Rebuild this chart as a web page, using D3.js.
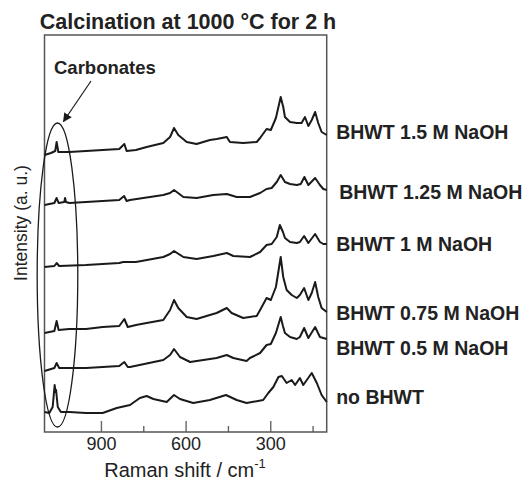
<!DOCTYPE html>
<html>
<head>
<meta charset="utf-8">
<script src="https://cdn.jsdelivr.net/npm/d3@7"></script>
<style>
    body { margin: 0; background: #fff; }
    svg { display: block; font-family: "Liberation Sans", Arial, sans-serif; }
</style>
</head>
<body>
<div id="chart"></div>
<script>
// spectra: [Raman shift (cm-1), stacked intensity (a. u.)]
const naoh150 = [[1100,277],[1077,279],[1062,281],[1057,290],[1051,280],[1012,280],[953,281],[894,282],[835,283],[817,288],[809,281],[776,282],[738,285],[679,289],[655,295],[641,304],[626,297],[596,290],[561,288],[514,292],[490,293],[454,295],[443,290],[396,289],[348,290],[336,294],[313,303],[298,302],[280,314],[263,335],[254,325],[248,315],[230,310],[206,309],[189,309],[177,315],[165,306],[153,312],[141,320],[130,309],[118,300],[100,297]];
const naoh125 = [[1100,227],[1065,229],[1057,234],[1050,229],[1030,230],[1027,234],[1024,230],[1012,229],[953,230],[894,231],[835,232],[818,236],[809,231],[797,232],[679,237],[655,239],[641,242],[608,235],[561,234],[502,237],[454,238],[419,235],[372,235],[336,239],[313,243],[295,244],[277,250],[263,257],[248,250],[230,248],[206,247],[192,248],[179,255],[165,247],[141,254],[124,247],[112,243],[100,242]];
const naoh100 = [[1100,165],[1065,166],[1057,169],[1048,166],[953,167],[894,168],[835,169],[821,170],[776,170],[679,175],[655,178],[641,181],[608,175],[561,173],[502,176],[454,179],[431,176],[372,175],[336,180],[313,187],[295,188],[277,195],[266,207],[255,200],[248,194],[230,190],[206,189],[195,190],[180,196],[165,189],[141,198],[124,190],[112,188],[100,188]];
const naoh075 = [[1100,99],[1065,101],[1057,111],[1050,102],[1012,103],[953,103],[894,105],[835,106],[817,113],[805,105],[776,107],[738,109],[679,112],[655,122],[641,132],[626,124],[596,115],[561,113],[514,117],[490,119],[454,124],[437,119],[396,114],[348,116],[336,122],[313,134],[298,132],[280,145],[263,175],[254,155],[242,142],[224,137],[206,134],[195,137],[180,144],[165,132],[153,139],[141,150],[130,135],[118,124],[100,120]];
const naoh050 = [[1100,61],[1065,64],[1057,69],[1048,64],[953,64],[894,65],[835,66],[817,70],[805,65],[797,65],[679,72],[655,77],[641,83],[620,75],[584,70],[537,72],[490,74],[454,77],[431,74],[384,71],[372,74],[336,79],[313,87],[298,88],[280,99],[263,115],[255,106],[248,99],[230,95],[206,93],[195,95],[180,104],[165,94],[141,105],[124,95],[112,94],[100,93]];
const noBhwt = [[1100,20],[1083,19],[1071,25],[1064,47],[1061,40],[1059,42],[1053,25],[1042,20],[1012,20],[953,19],[894,19],[844,24],[797,27],[762,34],[738,36],[714,33],[667,30],[641,37],[620,33],[573,29],[514,32],[457,37],[419,32],[384,29],[325,32],[307,39],[289,45],[271,55],[259,56],[242,49],[224,52],[212,47],[195,54],[183,47],[153,59],[135,49],[118,37],[100,30]];

const spectra = [naoh150, naoh125, naoh100, naoh075, naoh050, noBhwt];
const labels = ["BHWT 1.5 M NaOH", "BHWT 1.25 M NaOH", "BHWT 1 M NaOH", "BHWT 0.75 M NaOH", "BHWT 0.5 M NaOH", "no BHWT"];
const labelLevels = [300, 240, 188, 119, 84, 35];
const labelShift = [0, 3, 0, 0, 0, 0];
const majorTicks = [900, 600, 300];
const minorTicks = [750, 450, 150];

const width = 531;
const height = 482;
const marginTop = 35;
const marginRight = 204.3;
const marginBottom = 50;
const marginLeft = 44.5;

const svg = d3
    .select("#chart")
    .append("svg")
    .attr("width", width)
    .attr("height", height);

// reversed Raman axis
const x = d3
    .scaleLinear()
    .domain([1100, 100])
    .range([marginLeft, width - marginRight]);

const y = d3
    .scaleLinear()
    .domain([0, 397])
    .range([height - marginBottom, marginTop]);

// title
svg.append("text")
    .attr("x", 188)
    .attr("y", 28.5)
    .attr("text-anchor", "middle")
    .style("font-size", "21.5px")
    .style("font-weight", "bold")
    .style("fill", "#222")
    .text("Calcination at 1000 °C for 2 h");

// major ticks (inward)
svg.append("g")
    .attr("transform", `translate(0,${height - marginBottom})`)
    .call(d3.axisBottom(x).tickValues(majorTicks).tickSize(-11).tickPadding(5))
    .call((g) => g.select(".domain").remove())
    .call((g) => g.selectAll(".tick line").attr("stroke", "#666").attr("stroke-width", 1.4))
    .call((g) =>
        g.selectAll(".tick text")
            .style("font-size", "18px")
            .style("font-family", "'Liberation Sans', Arial, sans-serif")
            .attr("fill", "#222"),
    );

// minor ticks
svg.append("g")
    .attr("transform", `translate(0,${height - marginBottom})`)
    .call(d3.axisBottom(x).tickValues(minorTicks).tickSize(-6).tickFormat(""))
    .call((g) => g.select(".domain").remove())
    .call((g) => g.selectAll(".tick line").attr("stroke", "#666").attr("stroke-width", 1.4));

// frame
svg.append("rect")
    .attr("x", marginLeft)
    .attr("y", marginTop)
    .attr("width", width - marginLeft - marginRight)
    .attr("height", height - marginTop - marginBottom)
    .attr("fill", "none")
    .attr("stroke", "#555")
    .attr("stroke-width", 1.5);

// axis titles
const xTitle = svg.append("text")
    .attr("x", 185)
    .attr("y", 477)
    .attr("text-anchor", "middle")
    .style("font-size", "20px")
    .style("fill", "#222");
xTitle.append("tspan").text("Raman shift / cm");
xTitle.append("tspan")
    .attr("dy", -9)
    .style("font-size", "13px")
    .text("-1");

svg.append("text")
    .attr("transform", `translate(27,223) rotate(-90)`)
    .attr("text-anchor", "middle")
    .style("font-size", "17.5px")
    .style("fill", "#222")
    .text("Intensity (a. u.)");

// spectra
const line = d3
    .line()
    .x((d) => x(d[0]))
    .y((d) => y(d[1]));

svg.append("g")
    .selectAll("path")
    .data(spectra)
    .join("path")
    .attr("d", line)
    .attr("fill", "none")
    .attr("stroke", "#1a1a1a")
    .attr("stroke-width", 2)
    .attr("stroke-linejoin", "round");

// sample labels
svg.append("g")
    .selectAll("text")
    .data(labels)
    .join("text")
    .attr("x", (d, i) => width - marginRight + 9.5 + labelShift[i])
    .attr("y", (d, i) => y(labelLevels[i]))
    .attr("dy", "0.35em")
    .style("font-size", "19.5px")
    .style("font-weight", "bold")
    .style("fill", "#222")
    .text((d) => d);

// carbonate annotation
svg.append("ellipse")
    .attr("cx", x(1054))
    .attr("cy", y(157))
    .attr("rx", 20.3)
    .attr("ry", 152)
    .attr("fill", "none")
    .attr("stroke", "#1a1a1a")
    .attr("stroke-width", 1.3);

svg.append("defs")
    .append("marker")
    .attr("id", "arrow")
    .attr("viewBox", "0 0 10 10")
    .attr("refX", 9)
    .attr("refY", 5)
    .attr("markerWidth", 9)
    .attr("markerHeight", 9)
    .attr("markerUnits", "userSpaceOnUse")
    .attr("orient", "auto")
    .append("path")
    .attr("d", "M0,0L10,5L0,10z")
    .attr("fill", "#1a1a1a");

svg.append("line")
    .attr("x1", 91)
    .attr("y1", 81)
    .attr("x2", 63.5)
    .attr("y2", 121.5)
    .attr("stroke", "#1a1a1a")
    .attr("stroke-width", 1.2)
    .attr("marker-end", "url(#arrow)");

svg.append("text")
    .attr("x", 54)
    .attr("y", 73.5)
    .style("font-size", "18.5px")
    .style("font-weight", "bold")
    .style("fill", "#222")
    .text("Carbonates");
</script>
</body>
</html>
